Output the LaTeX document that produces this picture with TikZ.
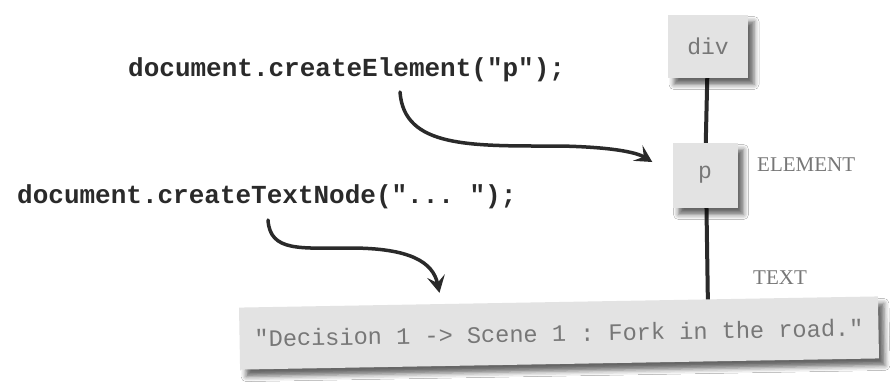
\documentclass[tikz,border=0pt]{standalone}
\usepackage{fontspec}
\setmainfont{Liberation Serif}
\setmonofont{Liberation Mono}
\usetikzlibrary{arrows.meta, shadows.blur}
\definecolor{domfill}{HTML}{E3E3E3}
\definecolor{domgray}{HTML}{777777}
\definecolor{domink}{HTML}{2A2A2A}
\tikzset{
  domnode/.style={fill=domfill, inner sep=0pt, text=domgray,
    font=\fontsize{23}{26}\selectfont\ttfamily,
    blur shadow={shadow xshift=6pt, shadow yshift=-7pt,
                 shadow blur radius=5pt, shadow opacity=60}},
  codeline/.style={anchor=west, inner sep=0pt, text=domink,
    font=\fontsize{26}{30}\selectfont\ttfamily\bfseries},
  kindlabel/.style={anchor=west, inner sep=0pt, text=domgray,
    font=\fontsize{21}{24}\selectfont},
  treeline/.style={line width=4pt, draw=domink},
  bend arrow/.style={line width=3.5pt, draw=domink, line cap=round,
    -{Stealth[length=17pt, width=18pt, inset=7pt]}}
}

\begin{document}
\begin{tikzpicture}[x=1pt, y=-1pt]
    \useasboundingbox[fill=white] (0,0) rectangle (890,384);

    % calls
    \node[codeline] (mkel) at (128,70) {document.createElement("p");};
    \node[codeline] (mktxt) at (17,197) {document.createTextNode("... ");};

    % tree
    \draw[treeline] (708,46) -- (705,175);
    \draw[treeline] (706,176) -- (708,310);
    \node[domnode, minimum width=80pt, minimum height=63pt] (div) at (708,46) {div};
    \node[domnode, minimum width=65pt, minimum height=65pt] (p) at (705,175) {p};
    \node[domnode, inner xsep=15pt, minimum height=62pt, rotate=1,
          font=\fontsize{23.6}{26}\selectfont\ttfamily] (txt) at (559,333)
          {"Decision 1 -> Scene 1 : Fork in the road."};
    \node[kindlabel] (elk) at (757,165) {ELEMENT};
    \node[kindlabel] (txk) at (753,278) {TEXT};

    % arrows
    \coordinate (mkel-out) at (400,92);
    \coordinate (mktxt-out) at (268,220);
    \draw[bend arrow] (mkel-out) .. controls (404,148) and (470,146) .. (560,146)
          .. controls (610,147) and (636,152) .. ([shift={(-20,-13)}]p.west);
    \draw[bend arrow] (mktxt-out) .. controls (270,252) and (300,248) .. (350,248)
          .. controls (410,248) and (433,262) .. ([shift={(-119,-9)}]txt.north);
\end{tikzpicture}
\end{document}
